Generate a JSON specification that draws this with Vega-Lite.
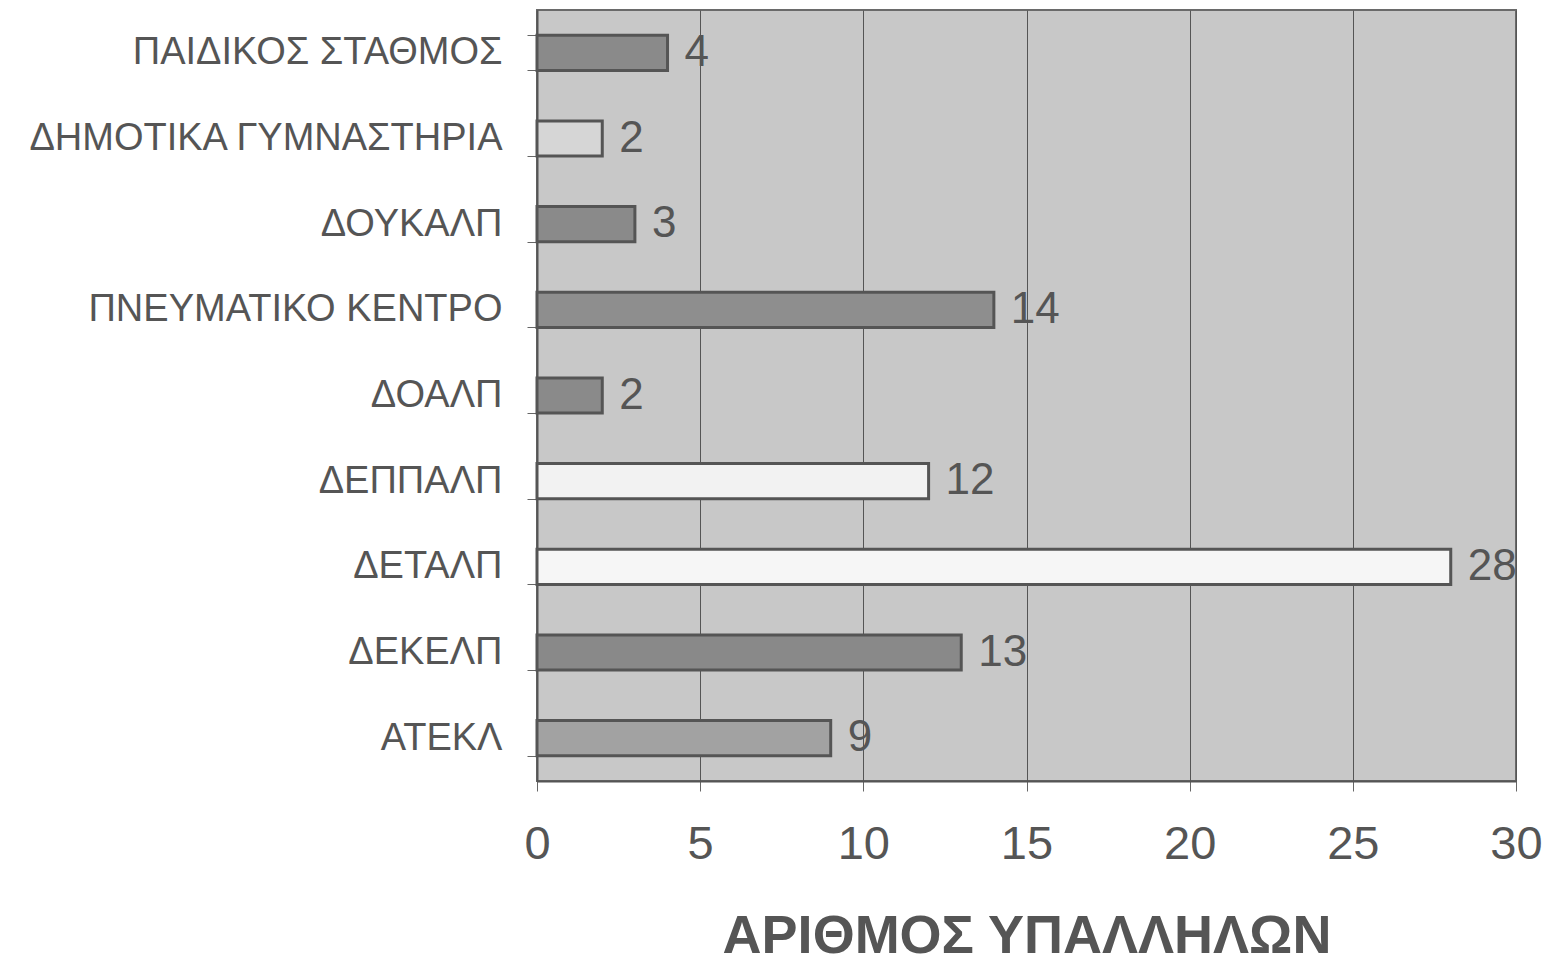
{
  "$schema": "https://vega.github.io/schema/vega-lite/v6.json",
  "width": 979,
  "height": 771,
  "autosize": {"type": "none"},
  "padding": {"left": 537, "top": 10, "right": 32, "bottom": 181},
  "background": "#ffffff",
  "config": {
    "view": {"fill": "#c8c8c8", "stroke": "#6a6a6a", "strokeWidth": 2},
    "font": "Liberation Sans"
  },
  "data": {
    "values": [
      {"category": "ΠΑΙΔΙΚΟΣ ΣΤΑΘΜΟΣ", "value": 4},
      {"category": "ΔΗΜΟΤΙΚΑ ΓΥΜΝΑΣΤΗΡΙΑ", "value": 2},
      {"category": "ΔΟΥΚΑΛΠ", "value": 3},
      {"category": "ΠΝΕΥΜΑΤΙΚΟ ΚΕΝΤΡΟ", "value": 14},
      {"category": "ΔΟΑΛΠ", "value": 2},
      {"category": "ΔΕΠΠΑΛΠ", "value": 12},
      {"category": "ΔΕΤΑΛΠ", "value": 28},
      {"category": "ΔΕΚΕΛΠ", "value": 13},
      {"category": "ΑΤΕΚΛ", "value": 9}
    ]
  },
  "encoding": {
    "y": {
      "field": "category",
      "type": "nominal",
      "sort": null,
      "scale": {"paddingInner": 0.59, "paddingOuter": 0.295},
      "axis": {
        "title": null,
        "labelFont": "Liberation Sans",
        "labelFontSize": 38,
        "labelLimit": 0,
        "labelColor": "#555555",
        "labelPadding": 25,
        "tickBand": "extent",
        "tickSize": 10,
        "tickColor": "#666666",
        "domainColor": "#555555",
        "domainWidth": 2,
        "grid": false
      }
    },
    "x": {
      "field": "value",
      "type": "quantitative",
      "scale": {"domain": [0, 30], "nice": false},
      "axis": {
        "title": "ΑΡΙΘΜΟΣ ΥΠΑΛΛΗΛΩΝ",
        "titleFont": "Liberation Sans",
        "titleFontSize": 54,
        "titleFontWeight": "bold",
        "titleColor": "#555555",
        "titlePadding": 42,
        "values": [0, 5, 10, 15, 20, 25, 30],
        "labelFont": "Liberation Sans",
        "labelFontSize": 47,
        "labelFlush": false,
        "labelColor": "#555555",
        "labelPadding": 30,
        "tickSize": 10,
        "tickColor": "#666666",
        "domainColor": "#555555",
        "domainWidth": 2,
        "grid": true,
        "gridColor": "#555555",
        "gridWidth": 1,
        "gridOpacity": 1
      }
    }
  },
  "layer": [
    {
      "mark": {"type": "bar", "stroke": "#555555", "strokeWidth": 3, "cornerRadius": 0},
      "encoding": {
        "color": {
          "field": "category",
          "type": "nominal",
          "legend": null,
          "scale": {
            "domain": ["ΠΑΙΔΙΚΟΣ ΣΤΑΘΜΟΣ", "ΔΗΜΟΤΙΚΑ ΓΥΜΝΑΣΤΗΡΙΑ", "ΔΟΥΚΑΛΠ", "ΠΝΕΥΜΑΤΙΚΟ ΚΕΝΤΡΟ", "ΔΟΑΛΠ", "ΔΕΠΠΑΛΠ", "ΔΕΤΑΛΠ", "ΔΕΚΕΛΠ", "ΑΤΕΚΛ"],
            "range": ["#8a8a8a", "#d6d6d6", "#8a8a8a", "#8e8e8e", "#8a8a8a", "#f2f2f2", "#f6f6f6", "#898989", "#a2a2a2"]
          }
        }
      }
    },
    {
      "mark": {"type": "text", "align": "left", "baseline": "middle", "dx": 17, "fontSize": 44, "font": "Liberation Sans", "color": "#555555"},
      "encoding": {"text": {"field": "value", "type": "quantitative"}}
    }
  ]
}
